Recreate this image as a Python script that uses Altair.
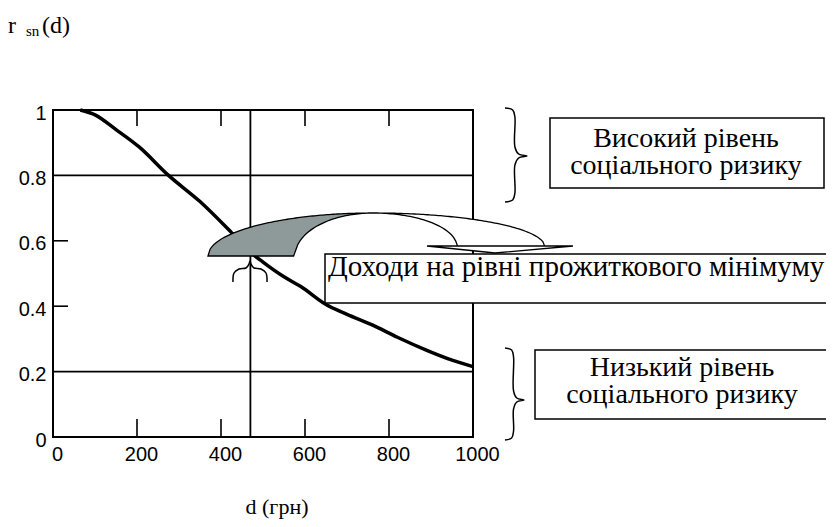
import altair as alt
import numpy as np
import pandas as pd

# ---- data ----
d_vals = [65, 100, 150, 205, 275, 350, 425, 470, 500, 550, 590, 650, 700, 760, 820, 890, 950, 1000]
r_vals = [1.0, 0.985, 0.94, 0.887, 0.80, 0.72, 0.625, 0.565, 0.535, 0.49, 0.46, 0.405, 0.375, 0.343, 0.305, 0.265, 0.235, 0.215]
x_tick_vals = [0, 200, 400, 600, 800, 1000]
y_tick_vals = [0, 0.2, 0.4, 0.6, 0.8, 1]
grid_r = [0.2, 0.8]
inner_tick_r = [0.4, 0.6]
inner_tick_d = [200, 400, 600, 800]
subsistence_d = [470]

label_high = ["Високий рівень", "соціального ризику"]
label_low = ["Низький рівень", "соціального ризику"]
label_min = "Доходи на рівні прожиткового мінімуму"

# ---- layout (plot area in page pixels) ----
PL, PT, PW, PH = 53, 110, 420, 327
def X(px):
    return (np.asarray(px, dtype=float) - PL) / PW * 1000.0
def Y(py):
    return (PT + PH - np.asarray(py, dtype=float)) / PH

xs = alt.Scale(domain=[0, 1000], nice=False, zero=False)
ys = alt.Scale(domain=[0, 1], nice=False, zero=False)
AX = alt.Axis(values=x_tick_vals, title=None, grid=False, ticks=False, domain=False, format="d",
              labelFont="Liberation Sans", labelFontSize=20, labelColor="black",
              labelPadding=7, labelOffset=4, labelFlush=False)
AY = alt.Axis(values=y_tick_vals, title=None, grid=False, ticks=False, domain=False,
              labelFont="Liberation Sans", labelFontSize=20, labelColor="black",
              labelPadding=7, labelOffset=3, format="~g", labelFlush=False)
FONT_SERIF = "Liberation Serif"

def XE():
    return alt.X("x:Q", scale=xs, axis=AX)
def YE():
    return alt.Y("y:Q", scale=ys, axis=AY)

base_df = pd.DataFrame({"x": d_vals, "y": r_vals})
curve = alt.Chart(base_df).mark_line(color="black", strokeWidth=3.5, interpolate="monotone").encode(
    x=XE(), y=YE())

grid = alt.Chart(pd.DataFrame({"y": grid_r})).mark_rule(color="black", strokeWidth=1.6).encode(y=YE())
vline = alt.Chart(pd.DataFrame({"x": subsistence_d})).mark_rule(color="black", strokeWidth=1.8).encode(x=XE())
lticks = alt.Chart(pd.DataFrame({"y": inner_tick_r})).mark_rule(color="black", strokeWidth=1.6).encode(
    y=YE(), x=alt.value(0), x2=alt.value(15))
tticks = alt.Chart(pd.DataFrame({"x": inner_tick_d})).mark_rule(color="black", strokeWidth=1.6).encode(
    x=XE(), y=alt.value(0), y2=alt.value(16))
bticks = alt.Chart(pd.DataFrame({"x": inner_tick_d})).mark_rule(color="black", strokeWidth=1.6).encode(
    x=XE(), y=alt.value(PH - 18), y2=alt.value(PH))

# ---- decorations ----
def brace_v(x0, yt, yb, xtip, ytip):
    w = xtip - x0
    pts = [(x0, yt), (x0 + 0.35 * w, yt + 2), (x0 + 0.45 * w, yt + 9), (x0 + 0.45 * w, ytip - 9),
           (x0 + 0.62 * w, ytip - 2), (xtip, ytip), (x0 + 0.62 * w, ytip + 2), (x0 + 0.45 * w, ytip + 9),
           (x0 + 0.45 * w, yb - 9), (x0 + 0.35 * w, yb - 2), (x0, yb)]
    return pd.DataFrame({"x": X([p[0] for p in pts]), "y": Y([p[1] for p in pts]), "i": range(len(pts))})

def brace_h(xl, xr, yend, yflat, xtip, ytip):
    pts = [(xl, yend), (xl + 1, yflat + 4), (xl + 6, yflat), (xtip - 4, yflat - 1), (xtip - 1, ytip + 3),
           (xtip, ytip), (xtip + 1, ytip + 3), (xtip + 4, yflat - 1), (xr - 6, yflat), (xr - 1, yflat + 4), (xr, yend)]
    return pd.DataFrame({"x": X([p[0] for p in pts]), "y": Y([p[1] for p in pts]), "i": range(len(pts))})

def brace_layer(df):
    return alt.Chart(df).mark_line(color="black", strokeWidth=1.5, interpolate="catmull-rom").encode(
        x=XE(), y=YE(), order="i:Q")

small_brace = brace_layer(brace_h(233, 267, 282, 269, 250, 261))
brace1 = brace_layer(brace_v(505, 108, 202, 527, 156))
brace2 = brace_layer(brace_v(505, 348, 440, 524, 400))

def ell(x, cx, cy, rx, ry):
    return cy - ry * np.sqrt(np.clip(1 - ((x - cx) / rx) ** 2, 0, 1))

gx = np.linspace(208, 373, 80)
gray_df = pd.DataFrame({"x": X(gx), "y": Y(ell(gx, 373, 256, 165, 43)),
                        "y2": Y(np.where(gx >= 295, ell(gx, 373, 256, 78, 43), 256))})
wx = np.linspace(373, 545, 80)
white_df = pd.DataFrame({"x": X(wx), "y": Y(ell(wx, 373, 247, 172, 34)),
                         "y2": Y(np.where(wx <= 457, ell(wx, 373, 247, 84, 34), 247))})
head_df = pd.DataFrame({"x": X([427, 495, 573]), "y": Y([246, 246, 246]), "y2": Y([246, 253, 246])})

def area_layer(df, fill):
    return alt.Chart(df).mark_area(fill=fill, stroke="black", strokeWidth=1.3, interpolate="linear").encode(
        x=XE(), y=YE(), y2="y2:Q")

gray = area_layer(gray_df, "#8e9a9a")
white = area_layer(white_df, "white")
head = area_layer(head_df, "white")

boxes_df = pd.DataFrame({"x": X([550, 535, 325]), "x2": X([824, 840, 900]),
                         "y": Y([118, 350, 254]), "y2": Y([188, 419, 303])})
boxes = alt.Chart(boxes_df).mark_rect(fill="white", stroke="black", strokeWidth=1.5).encode(
    x=XE(), x2="x2:Q", y=YE(), y2="y2:Q")

ctext_df = pd.DataFrame({"t": [label_high, label_low], "x": X([686, 682]), "y": Y([147, 376])})
ctext = alt.Chart(ctext_df).mark_text(font=FONT_SERIF, fontSize=28, color="black", align="center",
                                      baseline="alphabetic", lineHeight=27).encode(
    x=XE(), y=YE(), text="t")
ltext = alt.Chart(pd.DataFrame({"t": [label_min], "x": X([328]), "y": Y([276])})).mark_text(
    font=FONT_SERIF, fontSize=29, color="black", align="left", baseline="alphabetic").encode(
    x=XE(), y=YE(), text="t:N")

def label(txt, px, py, size, align="left"):
    return alt.Chart(pd.DataFrame({"t": [txt]})).mark_text(font=FONT_SERIF, fontSize=size, color="black",
                                                           align=align, baseline="alphabetic").encode(
        x=alt.value(px - PL), y=alt.value(py - PT), text="t:N")

t_r = label("r", 8, 33, 24)
t_sn = label("sn", 26, 36, 15)
t_d = label("(d)", 42, 33, 24)
t_x = label("d (грн)", 277, 514, 22, align="center")

chart = alt.layer(
    curve, grid, vline, lticks, tticks, bticks, small_brace, gray, white, head,
    boxes, ctext, ltext, brace1, brace2, t_r, t_sn, t_d, t_x,
).properties(
    width=PW, height=PH,
    padding={"left": 45, "top": 102, "right": 353, "bottom": 82},
    autosize=alt.AutoSizeParams(type="none"),
    background="white",
).configure_view(stroke="black", strokeWidth=2)

chart.save("out.html", embed_options={"renderer": "svg", "actions": False})
